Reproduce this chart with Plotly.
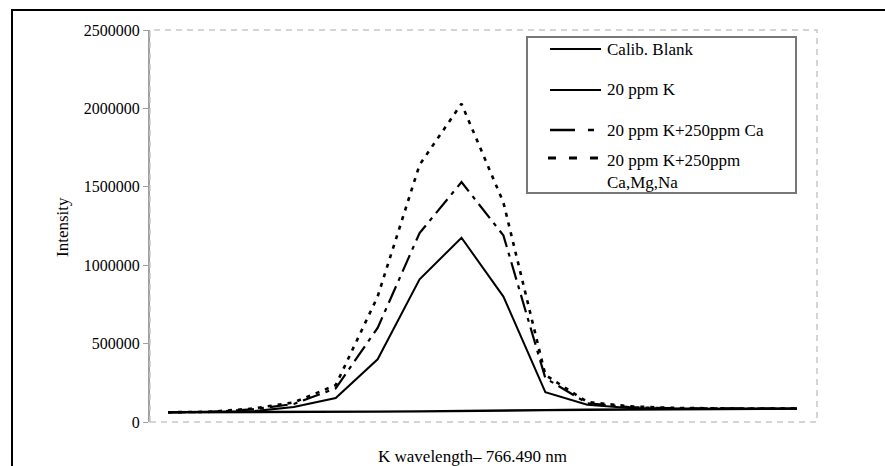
import plotly.graph_objects as go

# ---- data ----
scan_point = list(range(1, 17))
calib_blank = [62000, 62000, 63000, 64000, 65000, 66000, 68000, 72000, 74000, 76000, 78000, 80000, 82000, 84000, 85000, 86000]
k_20ppm = [62000, 63000, 68000, 95000, 153000, 400000, 910000, 1175000, 800000, 190000, 110000, 90000, 86000, 85000, 85000, 85000]
k_ca = [62000, 64000, 80000, 115000, 215000, 600000, 1205000, 1530000, 1190000, 280000, 120000, 95000, 88000, 86000, 85000, 85000]
k_camgna = [62000, 65000, 85000, 125000, 235000, 800000, 1640000, 2030000, 1400000, 300000, 128000, 100000, 90000, 86000, 85000, 85000]
series_names = ["Calib. Blank", "20 ppm K", "20 ppm K+250ppm Ca", "20 ppm K+250ppm<br>Ca,Mg,Na"]
y_ticks = [0, 500000, 1000000, 1500000, 2000000, 2500000]

W, H = 885, 466
L, R, T, B = 150, 68, 30, 44
PW, PH = W - L - R, H - T - B

def px(x):
    return (x - L) / PW

def py(y):
    return (H - B - y) / PH

FONT = "Liberation Serif"
dash_ca = "18px,6px,4px,6px"
dash_dot = "4px,6px"

fig = go.Figure()
styles = [
    (calib_blank, dict(color="black", width=2.4, dash="solid")),
    (k_20ppm, dict(color="black", width=2, dash="solid")),
    (k_ca, dict(color="black", width=2.2, dash=dash_ca)),
    (k_camgna, dict(color="black", width=2.6, dash=dash_dot)),
]
for (vals, ln), name in zip(styles, series_names):
    fig.add_trace(go.Scatter(x=scan_point, y=vals, mode="lines", line=ln,
                             name=name, showlegend=False))

shapes = []
# outer frame (cropped figure border)
shapes.append(dict(type="rect", xref="paper", yref="paper",
                   x0=px(12), x1=px(895), y0=py(10), y1=py(480),
                   line=dict(color="black", width=2)))
# dashed plot-area border
shapes.append(dict(type="rect", xref="paper", yref="paper",
                   x0=0, x1=1, y0=0, y1=1,
                   line=dict(color="#c8c8c8", width=1.5, dash="6px,5px")))
# legend box
shapes.append(dict(type="rect", xref="paper", yref="paper",
                   x0=px(527), x1=px(796), y0=py(193), y1=py(37),
                   line=dict(color="#777777", width=2), fillcolor="white"))
annotations = []
leg_rows = [49, 90, 130, 158]
leg_x = [(550, 601), (550, 601), (550, 594), (548, 599)]
leg_dash = ["solid", "solid", "25px,13px,6px,30px", "8px,13px"]
leg_w = [2.2, 2, 2.6, 3]
for yy, (xa, xb), d, w in zip(leg_rows, leg_x, leg_dash, leg_w):
    shapes.append(dict(type="line", xref="paper", yref="paper",
                       x0=px(xa), x1=px(xb), y0=py(yy), y1=py(yy),
                       line=dict(color="black", width=w, dash=d)))
leg_text_y = [50, 90, 130, 171]
for yy, name in zip(leg_text_y, series_names):
    annotations.append(dict(xref="paper", yref="paper", x=px(605), y=py(yy),
                            xanchor="left", yanchor="middle", showarrow=False,
                            text=name, align="left",
                            font=dict(family=FONT, size=17, color="black")))

annotations.append(dict(xref="paper", yref="paper", x=px(62), y=py(227),
                        text="Intensity", textangle=-90, showarrow=False,
                        xanchor="center", yanchor="middle",
                        font=dict(family=FONT, size=17, color="black")))
annotations.append(dict(xref="paper", yref="paper", x=px(472), y=py(457),
                        text="K wavelength\u2013 766.490 nm", showarrow=False,
                        xanchor="center", yanchor="middle",
                        font=dict(family=FONT, size=17, color="black")))

fig.update_layout(
    width=W, height=H,
    margin=dict(l=L, r=R, t=T, b=B),
    paper_bgcolor="white", plot_bgcolor="white",
    shapes=shapes, annotations=annotations,
    showlegend=False,
    xaxis=dict(range=[0.57, 16.48], showgrid=False, zeroline=False,
               showticklabels=False, ticks="", showline=False),
    yaxis=dict(range=[0, 2500000], tickvals=y_ticks,
               ticktext=[str(v) for v in y_ticks],
               showgrid=False, zeroline=False, showline=True,
               linecolor="#a0a0a0", linewidth=2, ticks="outside",
               ticklen=5, tickcolor="#a0a0a0",
               tickfont=dict(family=FONT, size=16, color="black")),
)

fig.write_html("out.html")
